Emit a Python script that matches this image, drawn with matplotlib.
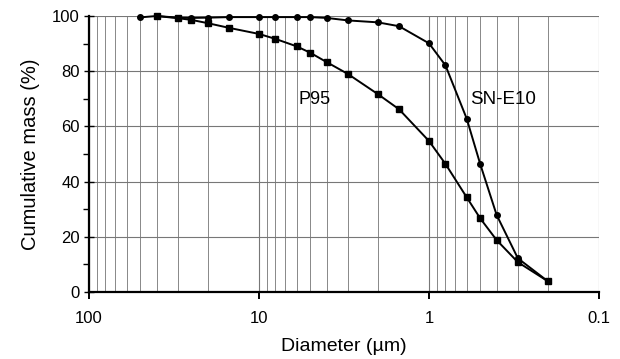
import matplotlib
matplotlib.use("Agg")
import matplotlib.pyplot as plt
from matplotlib.ticker import LogLocator, FixedLocator, NullFormatter, MultipleLocator

plt.rcParams['font.family'] = ['Liberation Sans', 'DejaVu Sans']

p95_d = [40, 30, 25, 20, 15, 10, 8, 6, 5, 4, 3, 2, 1.5, 1, 0.8, 0.6, 0.5, 0.4, 0.3, 0.2]
p95_m = [100, 99.2, 98.6, 97.4, 95.7, 93.5, 91.7, 89.0, 86.7, 83.3, 79.0, 71.7, 66.2, 54.7, 46.4, 34.3, 26.7, 18.8, 10.8, 3.9]

sn_d = [50, 40, 30, 25, 20, 15, 10, 8, 6, 5, 4, 3, 2, 1.5, 1, 0.8, 0.6, 0.5, 0.4, 0.3, 0.2]
sn_m = [99.5, 100, 99.4, 99.3, 99.4, 99.6, 99.6, 99.6, 99.6, 99.6, 99.3, 98.4, 97.7, 96.3, 90.1, 82.1, 62.8, 46.4, 27.9, 12.2, 3.9]

x_ticks = [100, 10, 1, 0.1]
x_tick_labels = ["100", "10", "1", "0.1"]
y_ticks = [0, 20, 40, 60, 80, 100]

fig = plt.figure(figsize=(6.2, 3.59), dpi=100)
ax = fig.add_axes([89/620, 1 - 292/359, (599-89)/620, (292-16)/359])

ax.set_xscale('log')
ax.set_xlim(100, 0.1)
ax.set_ylim(0, 100)

ax.plot(p95_d, p95_m, color='black', lw=1.4, marker='s', ms=4.5, zorder=3, clip_on=False)
ax.plot(sn_d, sn_m, color='black', lw=1.4, marker='o', ms=4, zorder=3, clip_on=False)

ax.text(4.74, 69.8, "P95", fontsize=13, ha='center', va='center')
ax.text(0.367, 69.8, "SN-E10", fontsize=13.5, ha='center', va='center')

ax.xaxis.set_major_locator(FixedLocator(x_ticks))
ax.set_xticklabels(x_tick_labels)
ax.xaxis.set_minor_locator(LogLocator(base=10, subs=[2, 3, 4, 5, 6, 7, 8, 9], numticks=20))
ax.xaxis.set_minor_formatter(NullFormatter())
ax.yaxis.set_major_locator(FixedLocator(y_ticks))
ax.yaxis.set_minor_locator(MultipleLocator(10))

ax.grid(True, which='major', axis='both', color='#777777', lw=0.8)
ax.grid(True, which='minor', axis='x', color='#888888', lw=0.7)
ax.set_axisbelow(True)

for s in ['top', 'right']:
    ax.spines[s].set_visible(False)
for s in ['left', 'bottom']:
    ax.spines[s].set_linewidth(1.6)

ax.tick_params(axis='x', which='major', direction='out', length=5, width=1.4, labelsize=12, pad=9)
ax.tick_params(axis='x', which='minor', length=0)
ax.tick_params(axis='y', which='major', direction='inout', length=7, width=1.0, labelsize=12, pad=3)
ax.tick_params(axis='y', which='minor', direction='out', length=4, width=1.0)

ax.set_xlabel("Diameter (µm)", fontsize=14, labelpad=8)
ax.set_ylabel("Cumulative mass (%)", fontsize=14.5, labelpad=9)

fig.savefig("out.png", dpi=100)
